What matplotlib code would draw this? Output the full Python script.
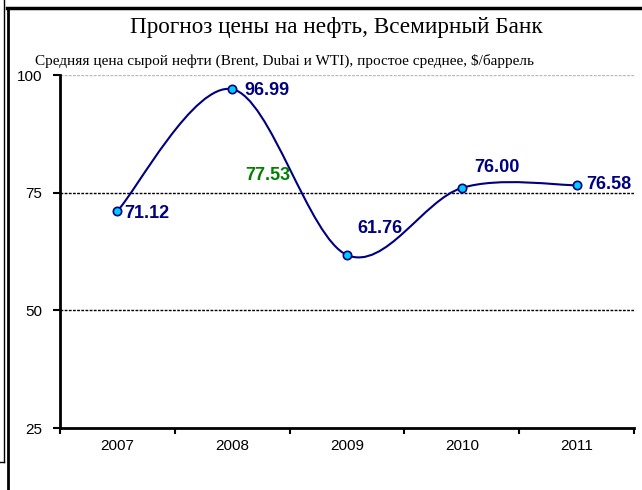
import matplotlib.pyplot as plt
from matplotlib.path import Path
from matplotlib.patches import PathPatch
from matplotlib.lines import Line2D

years = ['2007', '2008', '2009', '2010', '2011']
prices = [71.12, 96.99, 61.76, 76.00, 76.58]
avg_label = '77.53'
avg_pos = (1.31, 78.75)
y_ticks = [25, 50, 75, 100]

navy = '#000080'
marker_fill = '#00CCFF'

fig = plt.figure(figsize=(6.42, 4.9), dpi=100)
W, H = 642, 490
ax = fig.add_axes([60 / W, (H - 428) / H, 574 / W, (428 - 75) / H])

# smooth line (catmull-rom style, like excel's smoothed line)
xs = list(range(len(prices)))
pts = list(zip(xs, prices))
verts = [pts[0]]
codes = [Path.MOVETO]
n = len(pts)
for i in range(n - 1):
    p0 = pts[max(i - 1, 0)]
    p1 = pts[i]
    p2 = pts[i + 1]
    p3 = pts[min(i + 2, n - 1)]
    c1 = (p1[0] + (p2[0] - p0[0]) / 6, p1[1] + (p2[1] - p0[1]) / 6)
    c2 = (p2[0] - (p3[0] - p1[0]) / 6, p2[1] - (p3[1] - p1[1]) / 6)
    verts += [c1, c2, p2]
    codes += [Path.CURVE4] * 3
ax.add_patch(PathPatch(Path(verts, codes), facecolor='none', edgecolor=navy, lw=1.5, zorder=3))
ax.plot(xs, prices, ls='none', marker='o', ms=6, mfc=marker_fill, mec=navy, mew=1.2, zorder=4)

ax.set_xlim(-0.5, len(years) - 0.5)
ax.set_ylim(25, 100)

for v in [50, 75]:
    ax.axhline(v, color='black', lw=1, ls=(0, (2, 1)), zorder=1)
ax.axhline(100, color='#b8b8b8', lw=1, ls=(0, (2, 1)), zorder=1)

for s in ['top', 'right']:
    ax.spines[s].set_visible(False)
for s in ['left', 'bottom']:
    ax.spines[s].set_linewidth(2)

ax.set_yticks(y_ticks)
ax.set_yticklabels([str(t) for t in y_ticks], fontsize=11, family='Liberation Sans')
ax.tick_params(axis='y', length=5, width=1.5, pad=8)

ax.set_xticks([i - 0.5 for i in range(len(years) + 1)])
ax.set_xticklabels([])
ax.tick_params(axis='x', which='major', length=4, width=1.5)
ax.set_xticks(xs, minor=True)
ax.set_xticklabels(years, minor=True, fontsize=11, family='Liberation Sans')
ax.tick_params(axis='x', which='minor', length=0, pad=8)

# value labels
offsets = [(5, -1.5, 'left'), (9, -1, 'left'), (24, 19, 'center'), (25, 15, 'center'), (7, 0.5, 'left')]
for x, v, (dx, dy, ha) in zip(xs, prices, offsets):
    ax.annotate(f'{v:.2f}', (x, v), xytext=(dx, dy), textcoords='offset points',
                ha=ha, va='center', fontsize=13, fontweight='bold', color=navy,
                family='Liberation Sans', zorder=5)
ax.text(avg_pos[0], avg_pos[1], avg_label, ha='center', va='center', fontsize=13,
        fontweight='bold', color='#008000', family='Liberation Sans')

fig.text(336 / W, 1 - 27 / H, 'Прогноз цены на нефть, Всемирный Банк', ha='center', va='center',
         fontsize=16.7, family='Liberation Serif')
fig.text(35 / W, 1 - 61 / H, 'Средняя цена сырой нефти (Brent, Dubai и WTI), простое среднее, $/баррель',
         ha='left', va='center', fontsize=11, family='Liberation Serif')

# frame lines at the edges
fig.add_artist(Line2D([7 / W, 1], [1 - 8.5 / H] * 2, color='black', lw=2.5))
fig.add_artist(Line2D([7.5 / W] * 2, [0, 1 - 8.5 / H], color='black', lw=2))
fig.add_artist(Line2D([4 / W] * 2, [1 - 462 / H, 1], color='black', lw=1))
fig.add_artist(Line2D([0, 4 / W], [1 - 462 / H] * 2, color='black', lw=1))

fig.savefig('out.png', dpi=100)
